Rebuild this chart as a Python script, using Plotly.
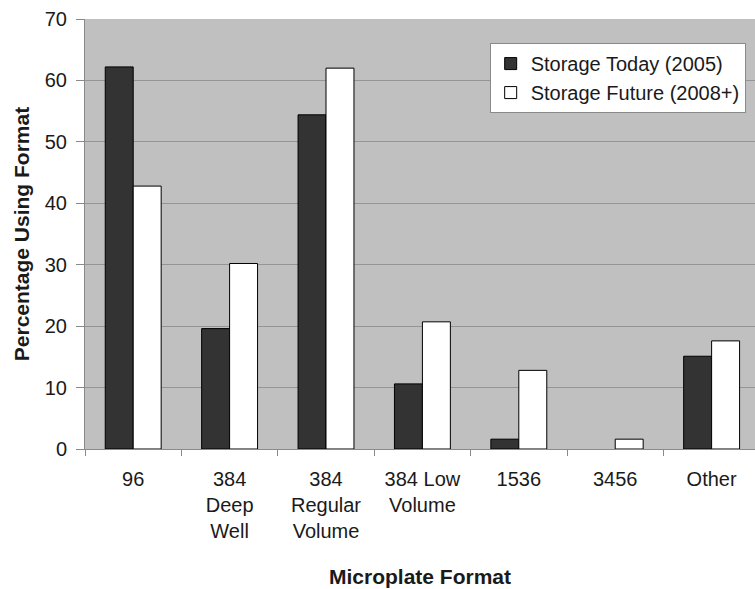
import plotly.graph_objects as go

# Microplate formats and survey percentages
formats = ["96", "384<br>Deep<br>Well", "384<br>Regular<br>Volume", "384 Low<br>Volume",
           "1536", "3456", "Other"]
storage_today = [62.2, 19.6, 54.4, 10.6, 1.6, 0.0, 15.1]
storage_future = [42.8, 30.2, 62.0, 20.7, 12.8, 1.6, 17.6]
y_ticks = [0, 10, 20, 30, 40, 50, 60, 70]

font_family = "Liberation Sans, Arial, sans-serif"


def outline_widths(values):
    # no outline on empty bars so a zero value leaves no stray line
    return [1 if v > 0 else 0 for v in values]


fig = go.Figure()
fig.add_trace(go.Bar(
    x=formats, y=storage_today, name="Storage Today (2005)",
    marker=dict(color="#333333", line=dict(color="#000000", width=outline_widths(storage_today))),
))
fig.add_trace(go.Bar(
    x=formats, y=storage_future, name="Storage Future (2008+)",
    marker=dict(color="#ffffff", line=dict(color="#000000", width=outline_widths(storage_future))),
))

fig.update_layout(
    width=755, height=589,
    margin=dict(l=85, r=0, t=19, b=140),
    paper_bgcolor="#ffffff",
    plot_bgcolor="#c0c0c0",
    barmode="group",
    bargap=0.42,
    bargroupgap=0,
    font=dict(family=font_family, size=20, color="#1a1a1a"),
    showlegend=True,
    legend=dict(
        x=0.604, y=0.944, xanchor="left", yanchor="top",
        bgcolor="#ffffff", bordercolor="#8a8a8a", borderwidth=1,
        font=dict(size=20, color="#1a1a1a"),
        itemwidth=30,
    ),
    xaxis=dict(
        type="category",
        range=[-0.5, 6.45],
        showline=True, linecolor="#8a8a8a", linewidth=1,
        ticks="outside", tickson="boundaries", ticklen=6, tickcolor="#8a8a8a",
        ticklabelstandoff=12,
        showgrid=False,
        tickfont=dict(size=20),
        title=dict(text="<b>Microplate Format</b>", font=dict(size=21), standoff=28),
    ),
    yaxis=dict(
        range=[0, 70],
        tickvals=y_ticks,
        showline=True, linecolor="#8a8a8a", linewidth=1,
        ticks="outside", ticklen=8, tickcolor="#8a8a8a",
        ticklabelstandoff=5,
        showgrid=True, gridcolor="#959595", gridwidth=1,
        zeroline=False,
        tickfont=dict(size=20),
        title=dict(text="<b>Percentage Using Format</b>", font=dict(size=21), standoff=9),
    ),
)

fig.write_html("out.html")
